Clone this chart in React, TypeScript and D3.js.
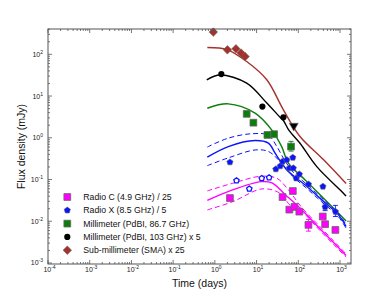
import React from "react";
import * as d3 from "d3";

// observed points [days, mJy]
const radioC = [[2.3, 0.036], [42, 0.038], [74, 0.053], [61, 0.019], [81, 0.022], [106, 0.017], [175, 0.0082], [386, 0.013], [440, 0.0085], [776, 0.0062]];
const radioX = [[2.3, 0.26], [29, 0.177], [37, 0.21], [42, 0.27], [53, 0.295], [74, 0.335], [61, 0.187], [76, 0.187], [89, 0.107], [106, 0.134], [175, 0.077], [390, 0.068], [440, 0.022], [776, 0.017]];
const radioXOpen = [[3.3, 0.094], [6.7, 0.06], [13.3, 0.107], [20, 0.111]];
const mm87 = [[5.8, 3.74], [8.4, 2.3], [18.2, 1.17], [26.3, 1.22], [67, 0.615]];
const mm103 = [[1.43, 33.5], [13.8, 5.6], [44, 3.1]];
const mm103Limit = [[78, 1.93]];
const sma = [[0.92, 340], [2.0, 128], [3.2, 135], [4.25, 107], [5.3, 88]];

// error bars [days, low, high]
const errC = [[175, 0.0058, 0.011]];
const errX = [[776, 0.013, 0.024], [440, 0.018, 0.026]];
const errMM = [[67, 0.48, 0.82]];

// model curves
const modelC = [[0.66, 0.0316], [2.3, 0.0534], [12.8, 0.089], [23.4, 0.0828], [48, 0.044], [123, 0.0187], [298, 0.0074], [700, 0.0031], [1400, 0.00151]];
const modelCHi = [[0.66, 0.0534], [2.7, 0.0815], [12.8, 0.12], [30.5, 0.107], [54, 0.0618], [123, 0.021], [298, 0.0083], [700, 0.0034], [1400, 0.00165]];
const modelCLo = [[0.66, 0.0187], [2.7, 0.0295], [13.5, 0.0596], [36.6, 0.0469], [63, 0.0246], [123, 0.0168], [298, 0.0067], [700, 0.0028], [1400, 0.00138]];
const modelX = [[0.66, 0.343], [2.1, 0.615], [9.2, 0.857], [19.2, 0.743], [27.8, 0.428], [40, 0.246], [58, 0.155], [146, 0.074], [366, 0.0325], [916, 0.0142], [1400, 0.0075]];
const modelXHi = [[0.66, 0.6], [2.1, 0.98], [7.7, 1.25], [19.2, 1.15], [30.5, 0.62], [48, 0.28], [80, 0.14], [146, 0.083], [366, 0.036], [916, 0.0156], [1400, 0.0082]];
const modelXLo = [[0.66, 0.215], [2.1, 0.33], [9.2, 0.51], [19.2, 0.47], [33, 0.3], [50, 0.18], [80, 0.11], [146, 0.066], [366, 0.029], [916, 0.0128], [1400, 0.0068]];
const model87 = [[0.66, 5.1], [2.1, 6.5], [9.2, 3.9], [23, 1.55], [40, 0.615], [58, 0.246], [146, 0.098], [366, 0.039], [916, 0.0156], [1400, 0.0102]];
const model103 = [[0.64, 24.5], [1.33, 32], [5.8, 20.4], [17.6, 6.8], [36.6, 3.1], [44, 2.6], [60, 1.5], [110, 0.74], [278, 0.204], [1208, 0.047], [1400, 0.04]];
const modelSMA = [[0.66, 145], [2.0, 128], [5.8, 67], [17.6, 24.5], [44, 4.67], [110, 1.07], [400, 0.3], [1400, 0.08]];

const legendLabels = ["Radio C (4.9 GHz) / 25", "Radio X (8.5 GHz) / 5", "Millimeter (PdBI, 86.7 GHz)", "Millimeter (PdBI, 103 GHz) x 5", "Sub-millimeter (SMA) x 25"];
const xTicks = [-4, -3, -2, -1, 0, 1, 2, 3];
const yTicks = [-3, -2, -1, 0, 1, 2];

const W = 390, H = 294;
const L = 48, R = 351, T = 29, B = 264;

const x = d3.scaleLog().domain([1e-4, Math.pow(10, 3.264)]).range([L, R]);
const y = d3.scaleLog().domain([Math.pow(10, -3.024), Math.pow(10, 2.606)]).range([B, T]);

const MAG = "#ff00ff", BLU = "#0a14ff", GRN = "#0b7d0b", BLK = "#000000", BRN = "#a8302b";

const line = d3.line<number[]>().x(d => x(d[0])).y(d => y(d[1])).curve(d3.curveCatmullRom.alpha(0.5));

const pent = (r: number) => {
  const pts = d3.range(5).map(i => {
    const a = -Math.PI / 2 + i * 2 * Math.PI / 5;
    return [r * Math.cos(a), r * Math.sin(a)];
  });
  return "M" + pts.map(p => p.join(",")).join("L") + "Z";
};

const sq = d3.symbol(d3.symbolSquare, 46)();
const circ = d3.symbol(d3.symbolCircle, 30)();
const diam = d3.symbol(d3.symbolSquare, 36)();
const tri = d3.symbol(d3.symbolTriangle, 36)();

const Marks = ({ data, path, fill, stroke = "#666", sw = 0.8, rot = 0 }: any) => (
  <g>
    {data.map((d: number[], i: number) => (
      <path key={i} d={path} transform={`translate(${x(d[0])},${y(d[1])}) rotate(${rot})`} fill={fill} stroke={stroke} strokeWidth={sw} />
    ))}
  </g>
);

const Err = ({ data, color }: any) => (
  <g stroke={color} strokeWidth={0.9}>
    {data.map((d: number[], i: number) => (
      <g key={i}>
        <line x1={x(d[0])} x2={x(d[0])} y1={y(d[1])} y2={y(d[2])} />
        <line x1={x(d[0]) - 2.5} x2={x(d[0]) + 2.5} y1={y(d[1])} y2={y(d[1])} />
        <line x1={x(d[0]) - 2.5} x2={x(d[0]) + 2.5} y1={y(d[2])} y2={y(d[2])} />
      </g>
    ))}
  </g>
);

const Sup = ({ e }: { e: number }) => (
  <>
    <tspan>10</tspan>
    <tspan dy={-3} fontSize={5}>{e}</tspan>
  </>
);

export default function App() {
  const minors = (lo: number, hi: number) => {
    const out: number[] = [];
    for (let e = lo; e <= hi; e++) for (let k = 2; k <= 9; k++) out.push(k * Math.pow(10, e));
    return out;
  };
  const xMinor = minors(-4, 3).filter(v => v <= x.domain()[1]);
  const yMinor = minors(-4, 2).filter(v => v >= y.domain()[0] && v <= y.domain()[1]);
  const ax = "#555";
  const legY = [197, 210.3, 223.6, 236.9, 250.2];
  const legIcons = [
    <path d={sq} fill={MAG} stroke="#666" strokeWidth={0.8} />,
    <path d={pent(3.3)} fill={BLU} stroke="#666" strokeWidth={0.6} />,
    <path d={sq} fill={GRN} stroke="#666" strokeWidth={0.8} />,
    <path d={circ} fill={BLK} />,
    <path d={diam} fill={BRN} stroke="#666" strokeWidth={0.6} transform="rotate(45)" />,
  ];

  return (
    <svg width={W} height={H} style={{ position: "absolute", left: 0, top: 0 }} fontFamily="Liberation Sans, Arial, sans-serif">
      <rect width={W} height={H} fill="#fff" />
      {/* model curves */}
      <g fill="none" strokeWidth={1.4}>
        <path d={line(modelSMA as any)!} stroke={BRN} />
        <path d={line(model103 as any)!} stroke={BLK} />
        <path d={line(model87 as any)!} stroke={GRN} />
        <path d={line(modelXHi as any)!} stroke={BLU} strokeDasharray="5,3" strokeWidth={1} />
        <path d={line(modelXLo as any)!} stroke={BLU} strokeDasharray="5,3" strokeWidth={1} />
        <path d={line(modelX as any)!} stroke={BLU} />
        <path d={line(modelCHi as any)!} stroke={MAG} strokeDasharray="5,3" strokeWidth={1} />
        <path d={line(modelCLo as any)!} stroke={MAG} strokeDasharray="5,3" strokeWidth={1} />
        <path d={line(modelC as any)!} stroke={MAG} />
      </g>
      {/* error bars */}
      <Err data={errC} color={MAG} />
      <Err data={errX} color={BLU} />
      <Err data={errMM} color={GRN} />
      {/* points */}
      <Marks data={radioC} path={sq} fill={MAG} />
      <Marks data={radioX} path={pent(3.3)} fill={BLU} sw={0.6} />
      <Marks data={radioXOpen} path={pent(2.8)} fill="#fff" stroke={BLU} sw={1.3} />
      <Marks data={mm87} path={sq} fill={GRN} />
      <Marks data={mm103} path={circ} fill={BLK} stroke="none" />
      <Marks data={mm103Limit} path={tri} fill={BLK} stroke="#777" sw={0.6} rot={180} />
      <Marks data={sma} path={diam} fill={BRN} sw={0.6} rot={45} />
      {/* frame and ticks */}
      <rect x={L} y={T} width={R - L} height={B - T} fill="none" stroke={ax} strokeWidth={1} />
      <g stroke={ax} strokeWidth={0.8}>
        {xTicks.map(e => {
          const px = x(Math.pow(10, e));
          return <g key={e}><line x1={px} x2={px} y1={B} y2={B - 4} /><line x1={px} x2={px} y1={T} y2={T + 4} /></g>;
        })}
        {xMinor.map((v, i) => (
          <g key={i}><line x1={x(v)} x2={x(v)} y1={B} y2={B - 2} /><line x1={x(v)} x2={x(v)} y1={T} y2={T + 2} /></g>
        ))}
        {yTicks.map(e => {
          const py = y(Math.pow(10, e));
          return <g key={e}><line x1={L} x2={L + 4} y1={py} y2={py} /><line x1={R} x2={R - 4} y1={py} y2={py} /></g>;
        })}
        {yMinor.map((v, i) => (
          <g key={i}><line x1={L} x2={L + 2} y1={y(v)} y2={y(v)} /><line x1={R} x2={R - 2} y1={y(v)} y2={y(v)} /></g>
        ))}
      </g>
      <g fontSize={7} fill="#222">
        {xTicks.map(e => (
          <text key={e} x={x(Math.pow(10, e)) + 1.5} y={272} textAnchor="middle"><Sup e={e} /></text>
        ))}
        {yTicks.map(e => (
          <text key={e} x={43} y={y(Math.pow(10, e)) + 2.5} textAnchor="end"><Sup e={e} /></text>
        ))}
      </g>
      <text x={(L + R) / 2} y={287} textAnchor="middle" fontSize={10.5} fill="#111">Time (days)</text>
      <text transform={`translate(25,${(T + B) / 2}) rotate(-90)`} textAnchor="middle" fontSize={10.5} fill="#111">Flux density (mJy)</text>
      {/* legend */}
      <g fontSize={8.7} fill="#111">
        {legendLabels.map((t, i) => (
          <g key={t}>
            <g transform={`translate(67.3,${legY[i]})`}>{legIcons[i]}</g>
            <text x={83.3} y={legY[i] + 3}>{t}</text>
          </g>
        ))}
      </g>
    </svg>
  );
}
